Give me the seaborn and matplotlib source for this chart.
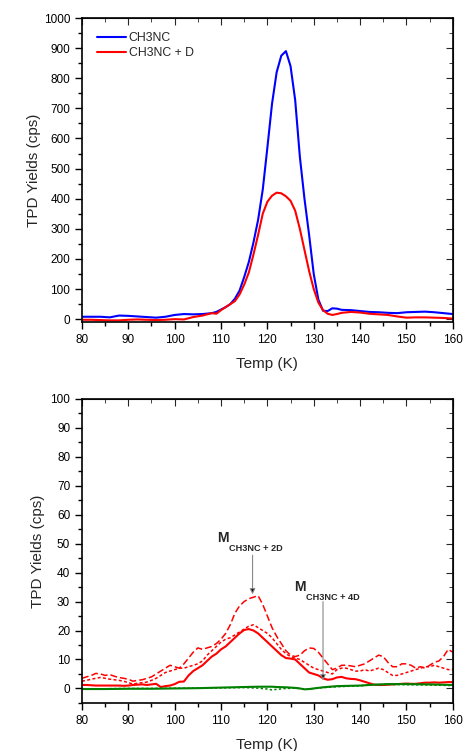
import numpy as np
import pandas as pd
import matplotlib
matplotlib.use("Agg")
import matplotlib.pyplot as plt
import seaborn as sns
from matplotlib.ticker import MultipleLocator

# ---------------- data: top panel ----------------
temp_top = [80, 82, 84, 86, 88, 90, 92, 94, 96, 98, 100, 102, 104, 106, 108,
            109, 110, 111, 112, 113, 114, 115, 116, 117, 118, 119, 120, 121, 122,
            123, 124, 125, 126, 127, 128, 129, 130, 131, 132, 133, 134, 135, 136,
            138, 140, 142, 144, 146, 148, 150, 152, 154, 156, 158, 160]
ch3nc = [8, 8, 8, 6, 12, 11, 9, 7, 5, 8, 14, 17, 16, 17, 20,
         24, 32, 40, 50, 68, 95, 140, 190, 255, 330, 430, 570, 715, 820,
         875, 890, 840, 727, 540, 400, 280, 150, 65, 28, 27, 36, 35, 31,
         30, 27, 24, 23, 21, 20, 23, 24, 25, 23, 20, 17]
ch3nc_d = [-2, -2, -3, -4, -4, -2, -1, -2, -3, -2, 0, -1, 7, 12, 20,
           18, 30, 40, 50, 60, 82, 115, 155, 215, 280, 350, 390, 410, 420,
           418, 408, 393, 360, 300, 230, 160, 100, 55, 30, 18, 14, 17, 21,
           24, 22, 18, 16, 14, 9, 5, 6, 6, 5, 4, 2]

# ---------------- data: bottom panel ----------------
temp_bot = list(range(80, 161))
m_solid = [1.2, 1.2, 1.1, 1.0, 1.0, 1.0, 1.0, 1.0, 1.0, 0.9, 1.0, 1.2, 1.3, 1.4, 1.2,
           1.4, 1.6, 0.5, 0.8, 1.0, 1.5, 2.3, 2.4, 4.5, 6.0, 7.0, 8.0, 9.5, 11.0, 12.0,
           13.5, 14.5, 16.0, 17.5, 19.0, 20.2, 20.5, 20.0, 19.0, 17.5, 16.0, 14.5, 13.0,
           11.5, 10.5, 10.3, 10.0, 8.5, 7.0, 5.5, 5.0, 4.5, 3.5, 3.0, 3.2, 3.8, 4.0, 3.5,
           3.3, 3.2, 2.8, 2.3, 1.8, 1.3, 1.2, 1.2, 1.3, 1.4, 1.5, 1.6, 1.7, 1.6, 1.6, 1.8,
           2.0, 2.0, 2.1, 2.0, 2.1, 2.2, 2.2]
m_dash = [3.5, 4.0, 4.5, 5.2, 5.0, 4.5, 4.8, 4.2, 3.8, 3.5, 3.2, 2.5, 2.8, 3.0, 3.5,
          4.0, 5.0, 6.0, 7.0, 8.0, 7.5, 7.0, 8.5, 10.5, 12.5, 14.0, 13.5, 14.0, 14.5, 15.5,
          17.0, 19.0, 22.0, 26.0, 28.5, 30.0, 31.0, 31.5, 32.0, 29.0, 25.0, 21.0, 18.0,
          15.5, 13.0, 11.5, 11.0, 11.5, 13.0, 14.0, 13.8, 12.5, 10.5, 8.5, 6.5, 7.0, 8.0,
          8.0, 7.8, 7.5, 8.0, 8.5, 9.5, 10.5, 11.5, 11.0, 9.0, 7.5, 7.5, 8.5, 8.5, 8.0,
          7.0, 7.5, 7.0, 8.0, 9.0, 9.5, 11.0, 13.5, 12.5]
m_dot = [2.5, 2.8, 3.2, 3.5, 3.8, 3.5, 3.2, 3.0, 2.8, 2.5, 2.0, 1.5, 1.8, 2.0, 2.2,
         2.8, 3.5, 4.5, 5.5, 6.0, 6.5, 7.0, 7.0, 7.5, 8.0, 8.5, 9.5, 11.5, 13.0, 14.5,
         16.0, 17.0, 17.5, 18.5, 19.5, 20.5, 21.5, 22.0, 21.0, 20.0, 19.0, 17.5, 15.5,
         13.5, 12.0, 11.0, 10.5, 10.0, 9.0, 8.0, 7.0, 6.5, 6.0, 5.5, 5.0, 6.5, 7.0,
         7.0, 6.5, 6.0, 6.0, 6.5, 6.0, 6.5, 7.0, 6.5, 5.5, 4.5, 4.5, 5.0, 5.5, 6.0,
         6.5, 7.0, 7.5, 7.5, 8.0, 7.5, 7.0, 6.5, 6.5]

temp_green = [80, 85, 90, 95, 100, 105, 110, 115, 118, 120, 121, 122, 124, 126, 127,
              128, 129, 130, 132, 135, 140, 143, 146, 150, 155, 160]
g_solid = [-0.2, -0.2, -0.1, -0.1, 0.0, 0.1, 0.3, 0.5, 0.6, 0.6, 0.6, 0.5, 0.4, 0.2, 0.0,
           -0.3, -0.2, 0.0, 0.4, 0.8, 1.0, 1.3, 1.5, 1.5, 1.4, 1.2]
g_dot = [-0.1, -0.1, 0.0, 0.0, 0.1, 0.1, 0.2, 0.3, 0.1, -0.2, -0.5, -0.3, 0.0, 0.1, 0.0,
         -0.2, -0.3, 0.0, 0.3, 0.6, 0.9, 1.3, 1.4, 1.3, 1.2, 1.0]

labels_top = ["CH3NC", "CH3NC + D"]
annot_main = ["M", "M"]
annot_sub = ["CH3NC + 2D", "CH3NC + 4D"]

# ---------------- figure ----------------
sns.set_style("ticks")
plt.rcParams["font.family"] = ["Liberation Sans", "DejaVu Sans"]

fig = plt.figure(figsize=(4.63, 7.51), dpi=100)
ax1 = fig.add_axes([0.177, 0.571, 0.801, 0.405])
ax2 = fig.add_axes([0.177, 0.064, 0.801, 0.405])

df_top = pd.DataFrame({"T": temp_top * 2,
                       "y": ch3nc + ch3nc_d,
                       "s": [labels_top[0]] * len(temp_top) + [labels_top[1]] * len(temp_top)})
sns.lineplot(data=df_top, x="T", y="y", hue="s", palette=["#0000ff", "#ff0000"],
             linewidth=1.5, ax=ax1, sort=False)
leg = ax1.legend(loc="upper left", frameon=False, fontsize=8.8, handlelength=2.35,
                 handletextpad=0.25, labelspacing=0.25, borderaxespad=0.3,
                 bbox_to_anchor=(0.017, 0.982))

sns.lineplot(x=temp_bot, y=m_solid, color="#ff0000", linewidth=1.5, ax=ax2)
sns.lineplot(x=temp_bot, y=m_dash, color="#ff0000", linewidth=1.1, ax=ax2,
             linestyle=(0, (4.5, 2)))
sns.lineplot(x=temp_bot, y=m_dot, color="#ff0000", linewidth=1.1, ax=ax2,
             linestyle=(0, (2, 1.5)))
sns.lineplot(x=temp_green, y=g_solid, color="#008000", linewidth=1.5, ax=ax2)
sns.lineplot(x=temp_green, y=g_dot, color="#008000", linewidth=1.1, ax=ax2,
             linestyle=(0, (1.5, 1.5)))

ax2.annotate("", xy=(116.8, 32.5), xytext=(116.8, 46),
             arrowprops=dict(arrowstyle="-|>", ec="#888888", fc="black", lw=0.8,
                             mutation_scale=8, shrinkA=0, shrinkB=0))
ax2.annotate("", xy=(132.0, 2.8), xytext=(132.0, 30),
             arrowprops=dict(arrowstyle="-|>", ec="#888888", fc="black", lw=0.8,
                             mutation_scale=8, shrinkA=0, shrinkB=0))
ax2.text(109.1, 50.7, annot_main[0], fontsize=10, fontweight="bold")
ax2.text(111.7, 47.6, annot_sub[0], fontsize=6.6, fontweight="bold")
ax2.text(125.7, 33.8, annot_main[1], fontsize=10, fontweight="bold")
ax2.text(128.3, 30.7, annot_sub[1], fontsize=6.6, fontweight="bold")

for ax, ylim, major, minor in [(ax1, (-10, 1000), 100, 50), (ax2, (-5, 100), 10, 5)]:
    ax.set_xlim(80, 160)
    ax.set_ylim(*ylim)
    ax.xaxis.set_major_locator(MultipleLocator(10))
    ax.xaxis.set_minor_locator(MultipleLocator(5))
    ax.yaxis.set_major_locator(MultipleLocator(major))
    ax.yaxis.set_minor_locator(MultipleLocator(minor))
    ax.tick_params(which="both", direction="out", top=False, right=False,
                   labelsize=8.5, width=1, colors="black")
    ax.tick_params(which="major", length=5)
    ax.tick_params(which="minor", length=3)
    sec_x = ax.secondary_xaxis("top")
    sec_x.xaxis.set_major_locator(MultipleLocator(10))
    sec_x.xaxis.set_minor_locator(MultipleLocator(5))
    sec_x.tick_params(which="both", direction="in", labeltop=False)
    sec_x.tick_params(which="major", length=5)
    sec_x.tick_params(which="minor", length=3)
    sec_y = ax.secondary_yaxis("right")
    sec_y.yaxis.set_major_locator(MultipleLocator(major))
    sec_y.yaxis.set_minor_locator(MultipleLocator(minor))
    sec_y.tick_params(which="both", direction="in", labelright=False)
    sec_y.tick_params(which="major", length=5)
    sec_y.tick_params(which="minor", length=3)
    for s in list(ax.spines.values()):
        s.set_linewidth(1.2)
        s.set_color("black")
    ax.set_xlabel("Temp (K)", fontsize=11, labelpad=8)
ax1.set_ylabel("TPD Yields (cps)", fontsize=11, labelpad=2)
ax2.set_ylabel("TPD Yields (cps)", fontsize=11, labelpad=4)

fig.savefig("out.png", dpi=100)
